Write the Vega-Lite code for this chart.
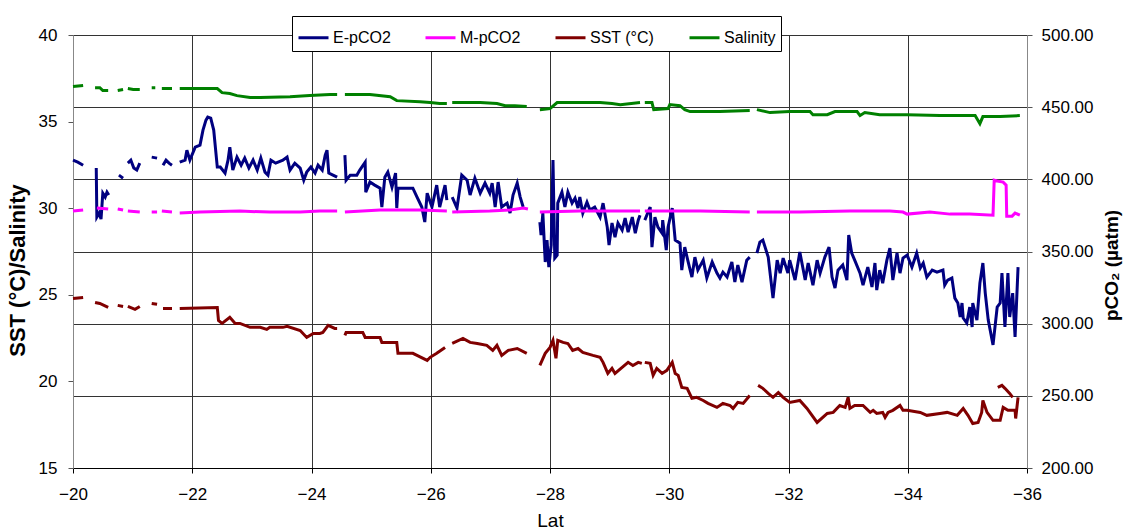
{
  "$schema": "https://vega.github.io/schema/vega-lite/v6.json",
  "width": 954,
  "height": 433,
  "autosize": {"type": "none"},
  "padding": {"left": 73, "top": 35, "right": 99, "bottom": 63},
  "background": "white",
  "config": {
    "font": "Liberation Sans",
    "view": {"stroke": null},
    "axis": {"labelColor": "#000", "titleColor": "#000", "labelFont": "Liberation Sans", "titleFont": "Liberation Sans"}
  },
  "datasets": {
    "E": [
      {"x":-20.00,"v":413.3},{"x":-20.08,"v":411.9},{"x":-20.17,"v":409.8},
      {"x":-20.27,"v":null},
      {"x":-20.39,"v":407.8},{"x":-20.40,"v":373.8},{"x":-20.44,"v":376.6},{"x":-20.47,"v":372.4},{"x":-20.50,"v":390.4},{"x":-20.54,"v":387.7},{"x":-20.57,"v":391.1},{"x":-20.60,"v":389.1},
      {"x":-20.67,"v":null},
      {"x":-20.77,"v":402.9},{"x":-20.84,"v":400.8},
      {"x":-20.88,"v":null},
      {"x":-20.92,"v":411.2},{"x":-20.97,"v":413.3},{"x":-21.02,"v":407.8},{"x":-21.07,"v":406.4},{"x":-21.12,"v":411.2},
      {"x":-21.22,"v":null},
      {"x":-21.32,"v":415.4},{"x":-21.41,"v":414.7},
      {"x":-21.45,"v":null},
      {"x":-21.51,"v":409.8},{"x":-21.56,"v":413.3},{"x":-21.61,"v":411.2},{"x":-21.66,"v":409.8},
      {"x":-21.72,"v":null},
      {"x":-21.79,"v":411.9},{"x":-21.88,"v":413.3},{"x":-21.91,"v":420.2},{"x":-21.96,"v":413.3},{"x":-22.05,"v":422.3},{"x":-22.13,"v":423.7},{"x":-22.18,"v":434.1},{"x":-22.23,"v":441.0},{"x":-22.26,"v":443.1},{"x":-22.31,"v":442.4},{"x":-22.36,"v":434.1},{"x":-22.42,"v":408.5},{"x":-22.47,"v":408.5},{"x":-22.55,"v":404.3},{"x":-22.60,"v":413.3},{"x":-22.63,"v":422.3},{"x":-22.68,"v":406.4},{"x":-22.75,"v":415.4},{"x":-22.82,"v":409.8},{"x":-22.88,"v":414.7},{"x":-22.95,"v":407.8},{"x":-23.02,"v":413.3},{"x":-23.09,"v":406.4},{"x":-23.15,"v":414.7},{"x":-23.22,"v":405.0},{"x":-23.27,"v":402.9},{"x":-23.32,"v":413.3},{"x":-23.40,"v":411.2},{"x":-23.52,"v":413.3},{"x":-23.59,"v":415.4},{"x":-23.64,"v":406.4},{"x":-23.72,"v":411.2},{"x":-23.81,"v":407.8},{"x":-23.87,"v":399.4},{"x":-23.92,"v":405.0},{"x":-23.99,"v":408.5},{"x":-24.06,"v":404.3},{"x":-24.11,"v":409.8},{"x":-24.18,"v":406.4},{"x":-24.23,"v":416.8},{"x":-24.26,"v":420.2},{"x":-24.29,"v":404.3},{"x":-24.36,"v":402.9},{"x":-24.43,"v":401.5},
      {"x":-24.50,"v":null},
      {"x":-24.56,"v":416.8},{"x":-24.58,"v":399.4},{"x":-24.65,"v":402.9},{"x":-24.76,"v":402.9},{"x":-24.81,"v":406.4},{"x":-24.90,"v":411.9},{"x":-24.91,"v":391.1},{"x":-24.98,"v":398.1},{"x":-25.06,"v":396.0},{"x":-25.15,"v":393.9},{"x":-25.18,"v":380.8},{"x":-25.23,"v":401.5},{"x":-25.28,"v":405.0},{"x":-25.35,"v":394.6},{"x":-25.41,"v":404.3},{"x":-25.43,"v":380.1},{"x":-25.45,"v":393.9},{"x":-25.70,"v":393.9},{"x":-25.77,"v":387.7},{"x":-25.85,"v":380.8},{"x":-25.90,"v":370.4},{"x":-25.94,"v":390.4},{"x":-26.02,"v":380.8},{"x":-26.10,"v":396.0},{"x":-26.15,"v":380.8},{"x":-26.24,"v":396.0},{"x":-26.27,"v":385.6},
      {"x":-26.31,"v":null},
      {"x":-26.36,"v":387.7},{"x":-26.44,"v":380.1},{"x":-26.52,"v":402.9},{"x":-26.61,"v":399.4},{"x":-26.66,"v":389.1},{"x":-26.74,"v":400.8},{"x":-26.83,"v":390.4},{"x":-26.91,"v":397.4},{"x":-26.99,"v":390.4},{"x":-27.03,"v":397.4},{"x":-27.08,"v":380.8},{"x":-27.13,"v":398.1},{"x":-27.19,"v":380.8},{"x":-27.28,"v":383.5},{"x":-27.33,"v":376.6},{"x":-27.38,"v":389.1},{"x":-27.45,"v":397.4},{"x":-27.50,"v":387.7},{"x":-27.55,"v":380.8},
      {"x":-27.72,"v":null},
      {"x":-27.83,"v":370.4},{"x":-27.85,"v":361.4},{"x":-27.88,"v":376.6},{"x":-27.92,"v":342.7},{"x":-27.95,"v":357.9},{"x":-27.98,"v":339.2},{"x":-28.02,"v":354.4},{"x":-28.05,"v":413.3},{"x":-28.08,"v":345.4},{"x":-28.12,"v":347.5},{"x":-28.13,"v":383.5},{"x":-28.20,"v":391.1},{"x":-28.25,"v":380.8},{"x":-28.30,"v":391.1},{"x":-28.37,"v":383.5},{"x":-28.42,"v":387.0},{"x":-28.47,"v":380.1},{"x":-28.50,"v":387.7},{"x":-28.55,"v":376.6},{"x":-28.62,"v":384.2},{"x":-28.67,"v":378.7},{"x":-28.75,"v":380.8},{"x":-28.84,"v":373.8},{"x":-28.89,"v":383.5},{"x":-28.96,"v":366.9},{"x":-28.99,"v":354.4},{"x":-29.04,"v":369.7},{"x":-29.09,"v":360.0},{"x":-29.14,"v":369.7},{"x":-29.21,"v":364.8},{"x":-29.26,"v":373.1},{"x":-29.31,"v":363.4},{"x":-29.38,"v":373.8},{"x":-29.43,"v":362.7},{"x":-29.48,"v":371.7},{"x":-29.51,"v":375.2},
      {"x":-29.56,"v":null},
      {"x":-29.59,"v":371.7},{"x":-29.68,"v":380.8},{"x":-29.71,"v":353.0},{"x":-29.76,"v":373.8},{"x":-29.81,"v":366.9},{"x":-29.88,"v":362.7},{"x":-29.89,"v":371.7},{"x":-29.95,"v":351.0},{"x":-29.98,"v":366.9},{"x":-30.05,"v":380.1},{"x":-30.10,"v":357.9},{"x":-30.18,"v":355.8},{"x":-30.21,"v":337.1},{"x":-30.26,"v":353.0},{"x":-30.31,"v":344.0},{"x":-30.38,"v":332.3},{"x":-30.43,"v":346.1},{"x":-30.48,"v":337.1},{"x":-30.57,"v":344.0},{"x":-30.63,"v":331.6},{"x":-30.72,"v":342.7},{"x":-30.80,"v":335.0},{"x":-30.85,"v":331.6},{"x":-30.90,"v":335.7},{"x":-30.97,"v":332.3},{"x":-31.05,"v":342.7},{"x":-31.10,"v":328.8},{"x":-31.15,"v":340.6},{"x":-31.22,"v":328.8},{"x":-31.30,"v":344.0},{"x":-31.35,"v":346.1},
      {"x":-31.41,"v":null},
      {"x":-31.47,"v":348.9},{"x":-31.52,"v":356.5},{"x":-31.57,"v":357.9},{"x":-31.66,"v":346.1},{"x":-31.74,"v":317.7},{"x":-31.81,"v":344.0},{"x":-31.86,"v":335.0},{"x":-31.91,"v":345.4},{"x":-31.99,"v":335.0},{"x":-32.02,"v":344.0},{"x":-32.11,"v":330.2},{"x":-32.19,"v":349.6},{"x":-32.28,"v":330.2},{"x":-32.33,"v":342.0},{"x":-32.41,"v":326.7},{"x":-32.48,"v":344.0},{"x":-32.53,"v":335.0},{"x":-32.61,"v":346.1},{"x":-32.68,"v":353.0},{"x":-32.73,"v":332.3},{"x":-32.78,"v":324.7},{"x":-32.83,"v":337.1},{"x":-32.91,"v":340.6},{"x":-32.98,"v":330.2},{"x":-33.01,"v":361.4},{"x":-33.06,"v":348.9},{"x":-33.11,"v":344.0},{"x":-33.20,"v":335.0},{"x":-33.25,"v":326.7},{"x":-33.33,"v":339.2},{"x":-33.40,"v":325.4},{"x":-33.45,"v":342.0},{"x":-33.48,"v":323.3},{"x":-33.53,"v":337.1},{"x":-33.58,"v":328.1},{"x":-33.65,"v":344.0},{"x":-33.70,"v":352.4},{"x":-33.75,"v":330.2},{"x":-33.82,"v":348.9},{"x":-33.87,"v":335.0},{"x":-33.92,"v":345.4},{"x":-33.99,"v":347.5},{"x":-34.07,"v":339.2},{"x":-34.15,"v":348.9},{"x":-34.21,"v":338.5},{"x":-34.26,"v":342.0},{"x":-34.32,"v":332.3},{"x":-34.41,"v":337.1},{"x":-34.49,"v":335.7},{"x":-34.59,"v":337.1},{"x":-34.62,"v":326.7},{"x":-34.67,"v":330.2},{"x":-34.74,"v":331.6},{"x":-34.79,"v":317.7},{"x":-34.84,"v":314.3},{"x":-34.88,"v":304.6},{"x":-34.91,"v":314.3},{"x":-34.93,"v":303.9},{"x":-34.99,"v":300.4},{"x":-35.04,"v":311.5},{"x":-35.08,"v":297.7},{"x":-35.09,"v":314.3},{"x":-35.16,"v":302.5},{"x":-35.21,"v":328.1},{"x":-35.26,"v":342.0},{"x":-35.30,"v":321.2},{"x":-35.35,"v":302.5},{"x":-35.43,"v":285.3},{"x":-35.50,"v":311.5},{"x":-35.55,"v":314.3},{"x":-35.58,"v":335.0},{"x":-35.63,"v":297.7},{"x":-35.68,"v":335.0},{"x":-35.71,"v":304.6},{"x":-35.76,"v":321.2},{"x":-35.80,"v":290.8},{"x":-35.85,"v":339.2}
    ],
    "M": [
      {"x":-20.00,"v":378.0},{"x":-20.17,"v":378.7},
      {"x":-20.27,"v":null},
      {"x":-20.40,"v":380.1},{"x":-20.59,"v":379.4},
      {"x":-20.67,"v":null},
      {"x":-20.75,"v":379.4},{"x":-20.84,"v":378.7},
      {"x":-20.88,"v":null},
      {"x":-20.92,"v":378.0},{"x":-21.12,"v":377.3},
      {"x":-21.22,"v":null},
      {"x":-21.32,"v":377.3},{"x":-21.41,"v":377.3},
      {"x":-21.45,"v":null},
      {"x":-21.49,"v":378.0},{"x":-21.66,"v":377.3},
      {"x":-21.72,"v":null},
      {"x":-21.79,"v":376.6},{"x":-22.13,"v":377.3},{"x":-22.80,"v":378.0},{"x":-23.30,"v":377.3},{"x":-23.81,"v":377.3},{"x":-24.14,"v":378.0},{"x":-24.43,"v":378.0},
      {"x":-24.50,"v":null},
      {"x":-24.56,"v":377.3},{"x":-25.15,"v":378.7},{"x":-25.82,"v":378.7},{"x":-26.27,"v":378.0},
      {"x":-26.31,"v":null},
      {"x":-26.36,"v":377.3},{"x":-26.99,"v":378.0},{"x":-27.33,"v":378.7},{"x":-27.55,"v":380.1},{"x":-27.63,"v":379.4},
      {"x":-27.72,"v":null},
      {"x":-27.83,"v":377.3},{"x":-28.50,"v":378.0},{"x":-29.18,"v":378.0},{"x":-29.51,"v":378.0},
      {"x":-29.56,"v":null},
      {"x":-29.59,"v":378.0},{"x":-30.52,"v":378.0},{"x":-31.35,"v":377.3},
      {"x":-31.41,"v":null},
      {"x":-31.47,"v":377.3},{"x":-32.19,"v":377.3},{"x":-33.03,"v":378.0},{"x":-33.70,"v":378.0},{"x":-33.92,"v":377.3},{"x":-33.99,"v":375.9},{"x":-34.37,"v":377.3},{"x":-34.71,"v":375.9},{"x":-35.04,"v":375.9},{"x":-35.43,"v":375.2},{"x":-35.45,"v":399.4},{"x":-35.50,"v":398.8},{"x":-35.60,"v":398.1},{"x":-35.65,"v":396.0},{"x":-35.66,"v":374.5},{"x":-35.75,"v":374.5},{"x":-35.80,"v":376.6},{"x":-35.88,"v":375.2}
    ],
    "T": [
      {"x":-20.00,"v":24.79},{"x":-20.17,"v":24.85},
      {"x":-20.27,"v":null},
      {"x":-20.37,"v":24.56},{"x":-20.45,"v":24.50},{"x":-20.59,"v":24.27},
      {"x":-20.67,"v":null},
      {"x":-20.75,"v":24.39},{"x":-20.84,"v":24.33},
      {"x":-20.88,"v":null},
      {"x":-20.92,"v":24.33},{"x":-21.04,"v":24.16},{"x":-21.12,"v":24.33},
      {"x":-21.22,"v":null},
      {"x":-21.32,"v":24.50},{"x":-21.41,"v":24.45},
      {"x":-21.45,"v":null},
      {"x":-21.51,"v":24.21},{"x":-21.66,"v":24.21},
      {"x":-21.72,"v":null},
      {"x":-21.79,"v":24.21},{"x":-22.42,"v":24.27},{"x":-22.44,"v":23.52},{"x":-22.50,"v":23.35},{"x":-22.63,"v":23.70},{"x":-22.72,"v":23.35},{"x":-22.80,"v":23.35},{"x":-22.97,"v":23.12},{"x":-23.14,"v":23.12},{"x":-23.25,"v":23.00},{"x":-23.30,"v":23.12},{"x":-23.52,"v":23.12},{"x":-23.59,"v":23.18},{"x":-23.81,"v":22.94},{"x":-23.92,"v":22.54},{"x":-24.03,"v":22.77},{"x":-24.14,"v":22.77},{"x":-24.19,"v":22.83},{"x":-24.28,"v":23.23},{"x":-24.39,"v":23.06},{"x":-24.43,"v":23.06},
      {"x":-24.50,"v":null},
      {"x":-24.56,"v":22.66},{"x":-24.58,"v":22.83},{"x":-24.86,"v":22.83},{"x":-24.90,"v":22.54},{"x":-25.15,"v":22.54},{"x":-25.18,"v":22.25},{"x":-25.43,"v":22.25},{"x":-25.45,"v":21.62},{"x":-25.70,"v":21.62},{"x":-25.77,"v":21.50},{"x":-25.94,"v":21.21},{"x":-25.99,"v":21.39},{"x":-26.10,"v":21.62},{"x":-26.24,"v":21.96},
      {"x":-26.31,"v":null},
      {"x":-26.36,"v":22.19},{"x":-26.54,"v":22.48},{"x":-26.66,"v":22.25},{"x":-26.78,"v":22.19},{"x":-26.94,"v":22.08},{"x":-27.04,"v":21.79},{"x":-27.11,"v":22.08},{"x":-27.19,"v":21.50},{"x":-27.30,"v":21.79},{"x":-27.45,"v":21.90},{"x":-27.61,"v":21.62},
      {"x":-27.72,"v":null},
      {"x":-27.83,"v":20.92},{"x":-27.92,"v":21.62},{"x":-28.00,"v":21.96},{"x":-28.05,"v":22.37},{"x":-28.10,"v":21.33},{"x":-28.13,"v":22.37},{"x":-28.22,"v":22.25},{"x":-28.30,"v":22.19},{"x":-28.38,"v":21.79},{"x":-28.47,"v":21.90},{"x":-28.55,"v":21.67},{"x":-28.72,"v":21.50},{"x":-28.84,"v":21.39},{"x":-28.89,"v":21.10},{"x":-28.97,"v":20.46},{"x":-29.04,"v":20.75},{"x":-29.09,"v":20.46},{"x":-29.21,"v":20.81},{"x":-29.31,"v":21.10},{"x":-29.39,"v":20.92},{"x":-29.48,"v":21.10},{"x":-29.54,"v":21.04},
      {"x":-29.56,"v":null},
      {"x":-29.59,"v":21.10},{"x":-29.68,"v":21.04},{"x":-29.73,"v":20.35},{"x":-29.79,"v":20.75},{"x":-29.88,"v":20.46},{"x":-29.96,"v":20.64},{"x":-30.05,"v":21.10},{"x":-30.10,"v":20.46},{"x":-30.15,"v":20.35},{"x":-30.21,"v":19.65},{"x":-30.30,"v":19.60},{"x":-30.38,"v":19.02},{"x":-30.46,"v":19.08},{"x":-30.57,"v":18.90},{"x":-30.65,"v":18.73},{"x":-30.80,"v":18.50},{"x":-30.90,"v":18.73},{"x":-31.02,"v":18.61},{"x":-31.07,"v":18.44},{"x":-31.15,"v":18.79},{"x":-31.24,"v":18.73},{"x":-31.35,"v":19.19},
      {"x":-31.41,"v":null},
      {"x":-31.49,"v":19.77},{"x":-31.57,"v":19.60},{"x":-31.66,"v":19.31},{"x":-31.74,"v":19.08},{"x":-31.83,"v":19.36},{"x":-31.91,"v":19.08},{"x":-32.02,"v":18.79},{"x":-32.19,"v":18.90},{"x":-32.31,"v":18.44},{"x":-32.48,"v":17.63},{"x":-32.65,"v":18.15},{"x":-32.75,"v":18.21},{"x":-32.86,"v":18.61},{"x":-32.95,"v":18.50},{"x":-33.00,"v":19.08},{"x":-33.03,"v":18.44},{"x":-33.11,"v":18.61},{"x":-33.25,"v":18.61},{"x":-33.37,"v":18.21},{"x":-33.42,"v":18.33},{"x":-33.48,"v":18.15},{"x":-33.58,"v":18.21},{"x":-33.62,"v":17.92},{"x":-33.67,"v":18.21},{"x":-33.75,"v":18.33},{"x":-33.87,"v":18.61},{"x":-33.92,"v":18.33},{"x":-33.99,"v":18.33},{"x":-34.21,"v":18.21},{"x":-34.32,"v":18.04},{"x":-34.54,"v":18.15},{"x":-34.66,"v":18.21},{"x":-34.83,"v":18.04},{"x":-34.93,"v":18.44},{"x":-35.01,"v":18.04},{"x":-35.09,"v":17.57},{"x":-35.18,"v":17.63},{"x":-35.24,"v":18.21},{"x":-35.26,"v":18.90},{"x":-35.33,"v":18.21},{"x":-35.43,"v":17.75},{"x":-35.55,"v":17.75},{"x":-35.60,"v":18.50},{"x":-35.68,"v":18.33},{"x":-35.80,"v":18.33},{"x":-35.81,"v":17.86},{"x":-35.85,"v":19.08},
      {"x":-35.51,"v":19.65,"p":2},{"x":-35.58,"v":19.77,"p":2},{"x":-35.63,"v":19.60,"p":2},{"x":-35.71,"v":19.31,"p":2},{"x":-35.76,"v":19.08,"p":2}
    ],
    "S": [
      {"x":-20.00,"v":37.02},{"x":-20.17,"v":37.08},
      {"x":-20.27,"v":null},
      {"x":-20.37,"v":36.96},{"x":-20.45,"v":36.96},{"x":-20.50,"v":36.79},{"x":-20.59,"v":36.79},
      {"x":-20.67,"v":null},
      {"x":-20.75,"v":36.79},{"x":-20.84,"v":36.85},
      {"x":-20.88,"v":null},
      {"x":-20.92,"v":36.91},{"x":-21.01,"v":36.85},{"x":-21.12,"v":36.85},
      {"x":-21.22,"v":null},
      {"x":-21.32,"v":36.96},{"x":-21.38,"v":36.96},
      {"x":-21.45,"v":null},
      {"x":-21.49,"v":36.91},{"x":-21.66,"v":36.91},
      {"x":-21.72,"v":null},
      {"x":-21.79,"v":36.91},{"x":-22.13,"v":36.91},{"x":-22.42,"v":36.91},{"x":-22.50,"v":36.67},{"x":-22.63,"v":36.62},{"x":-22.75,"v":36.50},{"x":-22.97,"v":36.39},{"x":-23.14,"v":36.39},{"x":-23.64,"v":36.44},{"x":-23.97,"v":36.50},{"x":-24.31,"v":36.56},{"x":-24.43,"v":36.56},
      {"x":-24.50,"v":null},
      {"x":-24.56,"v":36.56},{"x":-24.98,"v":36.56},{"x":-25.32,"v":36.44},{"x":-25.43,"v":36.21},{"x":-25.82,"v":36.15},{"x":-25.99,"v":36.10},{"x":-26.15,"v":36.04},{"x":-26.27,"v":36.04},
      {"x":-26.31,"v":null},
      {"x":-26.36,"v":36.10},{"x":-26.83,"v":36.10},{"x":-27.11,"v":36.04},{"x":-27.25,"v":35.92},{"x":-27.41,"v":35.92},{"x":-27.61,"v":35.87},
      {"x":-27.72,"v":null},
      {"x":-27.83,"v":35.69},{"x":-28.00,"v":35.75},{"x":-28.12,"v":36.10},{"x":-28.50,"v":36.10},{"x":-28.84,"v":36.10},{"x":-29.04,"v":36.04},{"x":-29.18,"v":35.98},{"x":-29.51,"v":36.10},
      {"x":-29.56,"v":null},
      {"x":-29.59,"v":36.10},{"x":-29.71,"v":36.10},{"x":-29.74,"v":35.69},{"x":-29.98,"v":35.75},{"x":-30.01,"v":35.98},{"x":-30.18,"v":35.92},{"x":-30.26,"v":35.69},{"x":-30.35,"v":35.58},{"x":-30.85,"v":35.58},{"x":-31.35,"v":35.64},
      {"x":-31.41,"v":null},
      {"x":-31.47,"v":35.69},{"x":-31.69,"v":35.52},{"x":-32.02,"v":35.58},{"x":-32.36,"v":35.58},{"x":-32.41,"v":35.40},{"x":-32.65,"v":35.40},{"x":-32.78,"v":35.58},{"x":-33.15,"v":35.58},{"x":-33.20,"v":35.35},{"x":-33.28,"v":35.52},{"x":-33.53,"v":35.40},{"x":-33.99,"v":35.40},{"x":-34.54,"v":35.35},{"x":-35.13,"v":35.35},{"x":-35.21,"v":34.88},{"x":-35.26,"v":35.29},{"x":-35.55,"v":35.29},{"x":-35.88,"v":35.35}
    ]
  },
  "encoding": {
    "x": {
      "field": "x", "type": "quantitative",
      "scale": {"domain": [-36, -20], "reverse": true},
      "axis": {
        "values": [-20, -22, -24, -26, -28, -30, -32, -34, -36],
        "title": "Lat", "grid": true, "gridColor": "#333", "gridWidth": 1,
        "domainColor": "#000", "tickColor": "#000", "tickSize": 5,
        "labelFontSize": 17, "labelPadding": 13, "labelFlush": false,
        "titleFontSize": 19, "titleFontWeight": "normal", "titlePadding": 9
      }
    }
  },
  "layer": [
    {
      "encoding": {
        "y": {
          "field": "v", "type": "quantitative",
          "scale": {"domain": [200, 500], "nice": false, "zero": false},
          "axis": {
            "orient": "right", "values": [200, 250, 300, 350, 400, 450, 500], "format": ".2f",
            "title": "pCO₂ (µatm)", "titleAngle": 270, "titleFontSize": 19, "titleFontWeight": "bold",
            "titleX": 84, "titleY": 230, "titleBaseline": "middle", "titleAlign": "center",
            "grid": true, "gridColor": "#333", "gridWidth": 1,
            "domainColor": "#888", "tickColor": "#555", "tickSize": 5,
            "labelFontSize": 17, "labelPadding": 9
          }
        }
      },
      "layer": [
        {
          "data": {"name": "E"},
          "mark": {"type": "line", "strokeWidth": 3, "invalid": "break-paths-filter-domains"},
          "encoding": {
            "color": {
              "datum": "E-pCO2", "type": "nominal",
              "scale": {"domain": ["E-pCO2", "M-pCO2", "SST (°C)", "Salinity"], "range": ["#000080", "#ff00ff", "#800000", "#008000"]},
              "legend": {
                "title": null, "orient": "none", "legendX": 219, "legendY": -19, "direction": "horizontal",
                "symbolType": "stroke", "symbolSize": 900, "symbolStrokeWidth": 3,
                "labelFontSize": 16, "labelFont": "Liberation Sans", "labelColor": "#000", "labelOffset": 3,
                "columnPadding": 28, "padding": 5, "strokeColor": "#000", "fillColor": "#fff"
              }
            }
          }
        },
        {
          "data": {"name": "M"},
          "mark": {"type": "line", "strokeWidth": 3, "invalid": "break-paths-filter-domains"},
          "encoding": {"color": {"datum": "M-pCO2", "type": "nominal"}}
        }
      ]
    },
    {
      "encoding": {
        "y": {
          "field": "v", "type": "quantitative",
          "scale": {"domain": [15, 40], "nice": false, "zero": false},
          "axis": {
            "orient": "left", "values": [15, 20, 25, 30, 35, 40],
            "title": "SST (°C)/Salinity", "titleAngle": 270, "titleFontSize": 22, "titleFontWeight": "bold",
            "titleX": -56, "titleY": 235, "titleBaseline": "middle", "titleAlign": "center",
            "grid": false, "domainColor": "#888", "tickColor": "#555", "tickSize": 5,
            "labelFontSize": 17, "labelPadding": 11
          }
        }
      },
      "layer": [
        {
          "data": {"name": "T"},
          "mark": {"type": "line", "strokeWidth": 3, "invalid": "break-paths-filter-domains"},
          "encoding": {"color": {"datum": "SST (°C)", "type": "nominal"}, "detail": {"field": "p"}}
        },
        {
          "data": {"name": "S"},
          "mark": {"type": "line", "strokeWidth": 3, "invalid": "break-paths-filter-domains"},
          "encoding": {"color": {"datum": "Salinity", "type": "nominal"}}
        }
      ]
    }
  ],
  "resolve": {"scale": {"y": "independent"}}
}
